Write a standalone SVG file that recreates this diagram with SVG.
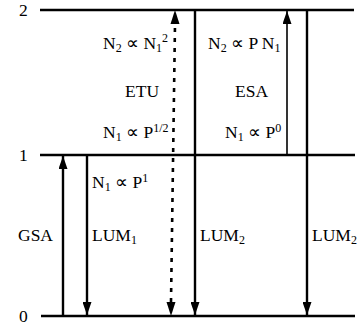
<svg xmlns="http://www.w3.org/2000/svg" width="360" height="326" viewBox="0 0 360 326" font-family="'Liberation Serif', 'Times New Roman', serif">
  <style>
    .lvl { stroke: #000; stroke-width: 2.5; fill: none; }
    .arr { stroke: #000; stroke-width: 2.4; fill: none; }
    .thin { stroke: #000; stroke-width: 1.6; fill: none; }
    .dot { stroke: #000; stroke-width: 2.6; fill: none; stroke-dasharray: 4 6; }
    text { font-family: 'Liberation Serif', 'Times New Roman', serif; font-size: 17.5px; fill: #000; }
    .sub { font-size: 12px; }
    .sup { font-size: 12px; }
  </style>
  <defs>
    <!-- filled arrowhead, 13 long by 9 wide -->
    <marker id="head" viewBox="0 0 13 9" refX="13" refY="4.5" markerWidth="13" markerHeight="9" markerUnits="userSpaceOnUse" orient="auto">
      <path d="M0,0 L13,4.5 L0,9 Z" fill="#000"/>
    </marker>
  </defs>

  <!-- energy levels -->
  <g id="levels">
    <line class="lvl" x1="40" y1="10" x2="354" y2="10"/>
    <line class="lvl" x1="40" y1="155" x2="355" y2="155"/>
    <line class="lvl" x1="41" y1="316" x2="355" y2="316"/>
    <text x="19" y="16">2</text>
    <text x="19" y="161">1</text>
    <text x="19" y="322">0</text>
  </g>

  <!-- transitions -->
  <g id="connectors">
    <line class="arr" x1="63" y1="315" x2="63" y2="156" marker-end="url(#head)"/>
    <line class="arr" x1="87" y1="156" x2="87" y2="315" marker-end="url(#head)"/>
    <line class="dot" x1="171" y1="302" x2="175" y2="24"/>
    <polygon points="175,10 170.5,24 179.5,24" fill="#000"/>
    <polygon points="171,316 166.5,302 175.5,302" fill="#000"/>
    <line class="arr" x1="195" y1="11" x2="195" y2="315" marker-end="url(#head)"/>
    <line class="thin" x1="287" y1="155" x2="287" y2="11" marker-end="url(#head)"/>
    <line class="arr" x1="307" y1="11" x2="307" y2="315" marker-end="url(#head)"/>
  </g>

  <g id="etu">
    <text x="103" y="49">N<tspan class="sub" dy="3">2</tspan><tspan dy="-3"> ∝ N</tspan><tspan class="sub" dy="3">1</tspan><tspan class="sup" dy="-10">2</tspan></text>
    <text x="125" y="97">ETU</text>
    <text x="103" y="138">N<tspan class="sub" dy="3">1</tspan><tspan dy="-3"> ∝ P</tspan><tspan class="sup" dy="-6">1/2</tspan></text>
  </g>

  <g id="esa">
    <text x="208" y="49">N<tspan class="sub" dy="3">2</tspan><tspan dy="-3"> ∝ P N</tspan><tspan class="sub" dy="3">1</tspan></text>
    <text x="235" y="97">ESA</text>
    <text x="225" y="138">N<tspan class="sub" dy="3">1</tspan><tspan dy="-3"> ∝ P</tspan><tspan class="sup" dy="-6">0</tspan></text>
  </g>

  <g id="gsa">
    <text x="18" y="241">GSA</text>
  </g>

  <g id="lum1">
    <text x="92" y="188">N<tspan class="sub" dy="3">1</tspan><tspan dy="-3"> ∝ P</tspan><tspan class="sup" dy="-6">1</tspan></text>
    <text x="92" y="241">LUM<tspan class="sub" dy="3">1</tspan></text>
  </g>

  <g id="lum2a">
    <text x="200" y="241">LUM<tspan class="sub" dy="3">2</tspan></text>
  </g>

  <g id="lum2b">
    <text x="312" y="241">LUM<tspan class="sub" dy="3">2</tspan></text>
  </g>
</svg>
